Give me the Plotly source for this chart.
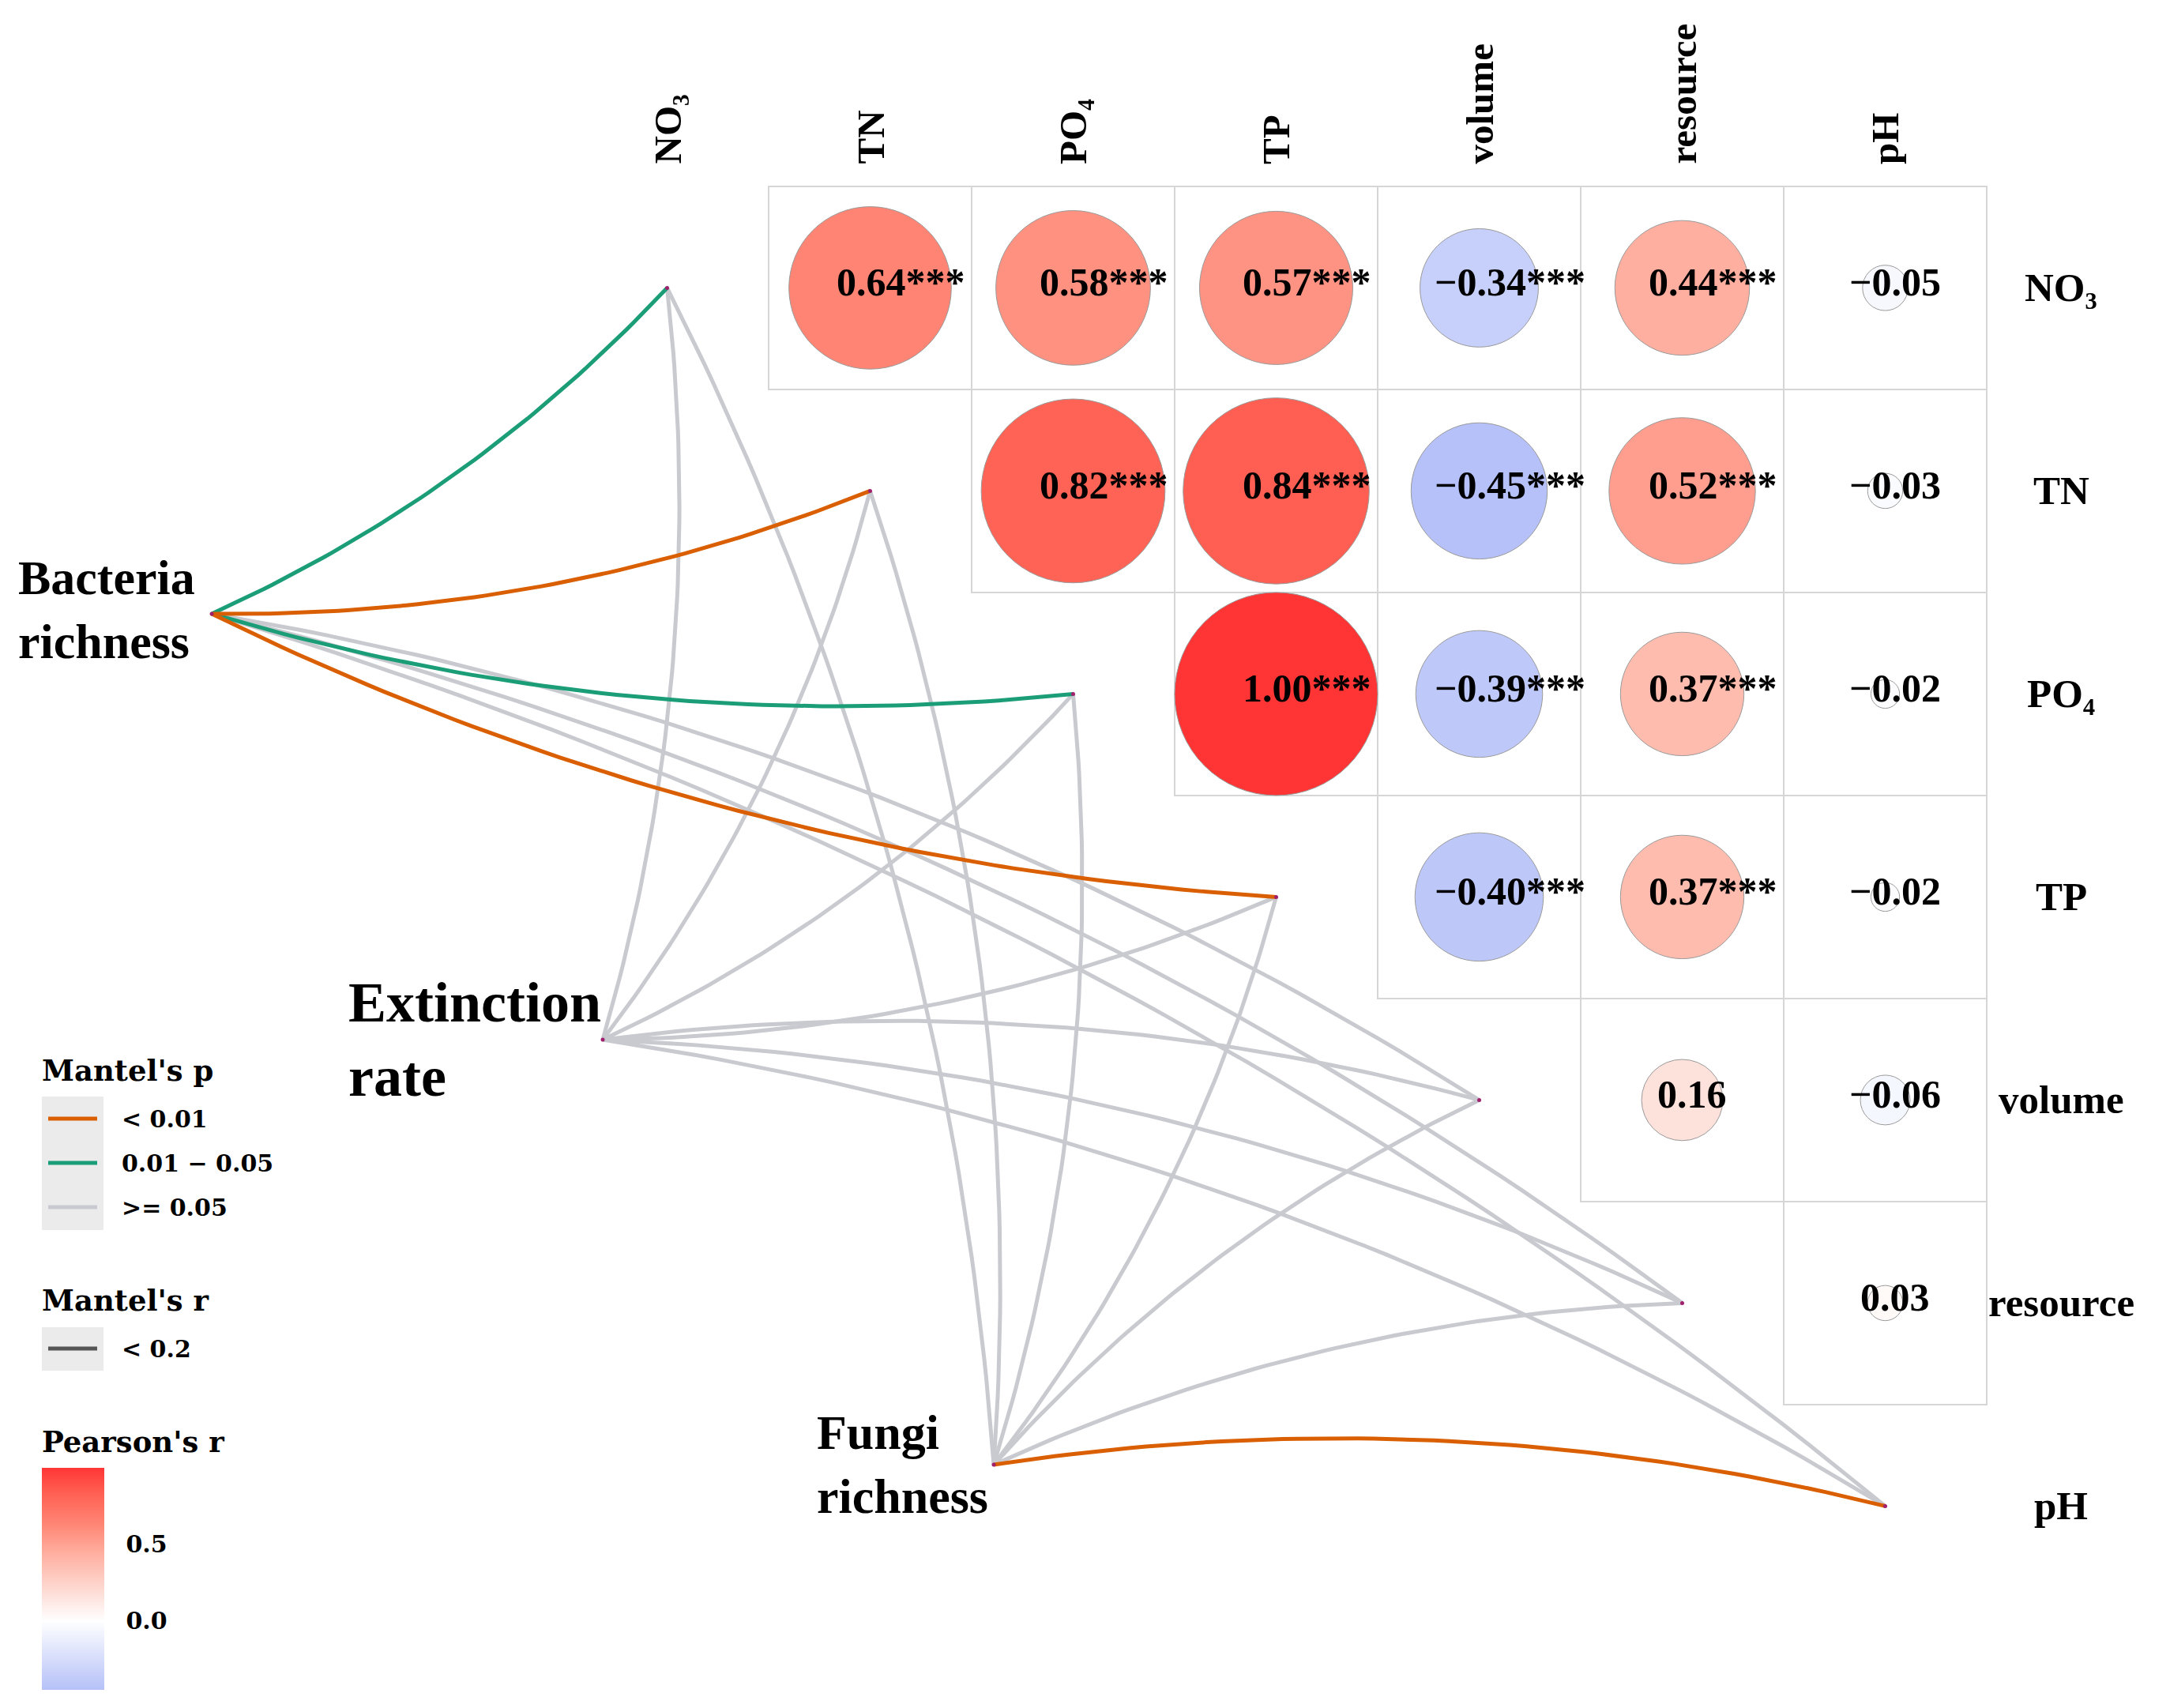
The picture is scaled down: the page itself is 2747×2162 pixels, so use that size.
import numpy as np
import plotly.graph_objects as go

# ---------------- data ----------------
env_vars = ["NO₃", "TN", "PO₄", "TP", "volume", "resource", "pH"]

# Pearson's r (upper triangle, row variable x column variable)
pearson_r = [
    [None, 0.64, 0.58, 0.57, -0.34, 0.44, -0.05],
    [None, None, 0.82, 0.84, -0.45, 0.52, -0.03],
    [None, None, None, 1.00, -0.39, 0.37, -0.02],
    [None, None, None, None, -0.40, 0.37, -0.02],
    [None, None, None, None, None, 0.16, -0.06],
    [None, None, None, None, None, None, 0.03],
    [None, None, None, None, None, None, None],
]
pearson_sig = [
    ["", "***", "***", "***", "***", "***", ""],
    ["", "", "***", "***", "***", "***", ""],
    ["", "", "", "***", "***", "***", ""],
    ["", "", "", "", "***", "***", ""],
    ["", "", "", "", "", "", ""],
    ["", "", "", "", "", "", ""],
    ["", "", "", "", "", "", ""],
]

species = ["Bacteria<br>richness", "Extinction<br>rate", "Fungi<br>richness"]

# Mantel's p class for each species -> env variable
mantel_p = [
    ["0.01 - 0.05", "< 0.01", "0.01 - 0.05", "< 0.01", ">= 0.05", ">= 0.05", ">= 0.05"],
    [">= 0.05", ">= 0.05", ">= 0.05", ">= 0.05", ">= 0.05", ">= 0.05", ">= 0.05"],
    [">= 0.05", ">= 0.05", ">= 0.05", ">= 0.05", ">= 0.05", ">= 0.05", "< 0.01"],
]
mantel_r = [["< 0.2"] * 7 for _ in range(3)]

p_classes = ["< 0.01", "0.01 - 0.05", ">= 0.05"]
p_labels = ["< 0.01", "0.01 − 0.05", ">= 0.05"]
r_classes = ["< 0.2"]
cbar_ticks = [0.0, 0.5]
cbar_ticktext = ["0.0", "0.5"]

# ---------------- layout / style ----------------
OFF = 8                              # page body margin
W, H = 2747 - OFF, 2162 - OFF        # figure size
CELL = 257.0
X0PX, Y0PX = 844.5 - OFF, 364.4 - OFF   # figure-pixel position of grid cell (0,0) centre
xr = [(0 - X0PX) / CELL, (W - X0PX) / CELL]
yr = [(H - Y0PX) / CELL, (0 - Y0PX) / CELL]

species_pos = [(-2.243, 1.605), (-0.317, 3.703), (1.609, 5.796)]
species_font = [62, 72, 62]
species_label_dx = [-0.075, 0.0, -0.02]
species_label_dy = [-0.02, 0.0, 0.0]

p_colors = {"< 0.01": "#D95F02", "0.01 - 0.05": "#1B9E77", ">= 0.05": "#C8CACF"}
r_widths = {"< 0.2": 5}

SERIF = "Liberation Serif"
LEGF = "DejaVu Serif"

cmin, cmax = -0.45, 1.0
cs_vals = [-0.45, 0.0, 0.16, 0.44, 0.64, 0.84, 1.0]
cs_cols = ["#B5C1F8", "#FFFFFF", "#FDE2DC", "#FFAFA0", "#FF8473", "#FF5F52", "#FF3535"]
colorscale = [[(v - cmin) / (cmax - cmin), c] for v, c in zip(cs_vals, cs_cols)]


def hex2rgb(h):
    h = h.lstrip("#")
    return np.array([int(h[i:i + 2], 16) for i in (0, 2, 4)], dtype=float)


def color_of(v):
    v = min(max(v, cmin), cmax)
    for k in range(len(cs_vals) - 1):
        if cs_vals[k] <= v <= cs_vals[k + 1]:
            t = (v - cs_vals[k]) / (cs_vals[k + 1] - cs_vals[k])
            c = hex2rgb(cs_cols[k]) * (1 - t) + hex2rgb(cs_cols[k + 1]) * t
            return "rgb(%d,%d,%d)" % tuple(np.round(c))
    return cs_cols[-1]


def px2paper(px, py):
    # px, py are page pixel positions
    return (px - OFF) / W, 1 - (py - OFF) / H


fig = go.Figure()
shapes = []
annotations = []

n = len(env_vars)

# grid cells + circles
for i in range(n):
    for j in range(n):
        r = pearson_r[i][j]
        if r is None:
            continue
        shapes.append(dict(type="rect", xref="x", yref="y",
                           x0=j - 0.5, x1=j + 0.5, y0=i - 0.5, y1=i + 0.5,
                           line=dict(color="#D6D6D6", width=2), fillcolor="rgba(0,0,0,0)",
                           layer="below"))
for i in range(n):
    for j in range(n):
        r = pearson_r[i][j]
        if r is None:
            continue
        rad = 0.5 * np.sqrt(abs(r))
        shapes.append(dict(type="circle", xref="x", yref="y",
                           x0=j - rad, x1=j + rad, y0=i - rad, y1=i + rad,
                           fillcolor=color_of(r), line=dict(color="#9A9A9A", width=1),
                           layer="below"))
        txt = ("−" if r < 0 else "") + "%.2f" % abs(r) + pearson_sig[i][j]
        shift = 0.15 if pearson_sig[i][j] else 0.05
        annotations.append(dict(x=j + shift, y=i - 0.03, xref="x", yref="y",
                                text="<b>%s</b>" % txt,
                                showarrow=False, xanchor="center", yanchor="middle",
                                font=dict(family=SERIF, size=50, color="black")))

# dummy trace carrying the colour bar
cx, cy, cv = [], [], []
for i in range(n):
    for j in range(n):
        if pearson_r[i][j] is not None:
            cx.append(j); cy.append(i); cv.append(pearson_r[i][j])
lx, ly = px2paper(53, 1858)
fig.add_trace(go.Scatter(
    x=cx, y=cy, mode="markers", hoverinfo="skip", showlegend=False,
    marker=dict(size=1, opacity=0, color=cv, cmin=cmin, cmax=cmax, colorscale=colorscale,
                showscale=True,
                colorbar=dict(x=lx, xanchor="left", y=ly, yanchor="top", xpad=0, ypad=0,
                              thickness=79, thicknessmode="pixels", len=281, lenmode="pixels",
                              outlinewidth=0, tickvals=cbar_ticks,
                              ticktext=["<b>%s</b>" % t for t in cbar_ticktext],
                              ticks="outside", ticklen=22, tickcolor="rgba(0,0,0,0)",
                              tickfont=dict(family=LEGF, size=30, color="black")))))

# Mantel edges (grey first, coloured on top)
order = [">= 0.05", "0.01 - 0.05", "< 0.01"]
for cls in order:
    for s, (sx, sy) in enumerate(species_pos):
        for k in range(n):
            if mantel_p[s][k] != cls:
                continue
            ex, ey = k, k
            dx, dy = ex - sx, ey - sy
            L = np.hypot(dx, dy)
            sign = 1 if k <= 3 else -1
            px_, py_ = -dy / L * sign, dx / L * sign
            mx, my = (sx + ex) / 2, (sy + ey) / 2
            cxp, cyp = mx + px_ * 0.1 * L, my + py_ * 0.1 * L
            t = np.linspace(0, 1, 60)
            bx = (1 - t) ** 2 * sx + 2 * (1 - t) * t * cxp + t ** 2 * ex
            by = (1 - t) ** 2 * sy + 2 * (1 - t) * t * cyp + t ** 2 * ey
            fig.add_trace(go.Scatter(x=bx, y=by, mode="lines", hoverinfo="skip",
                                     showlegend=False,
                                     line=dict(color=p_colors[cls],
                                               width=r_widths[mantel_r[s][k]])))

# nodes
fig.add_trace(go.Scatter(x=[p[0] for p in species_pos] + list(range(n)),
                         y=[p[1] for p in species_pos] + list(range(n)),
                         mode="markers", hoverinfo="skip", showlegend=False,
                         marker=dict(size=5, color="#A0206E")))

# species labels
for s, (sx, sy) in enumerate(species_pos):
    annotations.append(dict(x=sx + species_label_dx[s], y=sy + species_label_dy[s],
                            xref="x", yref="y", text="<b>%s</b>" % species[s],
                            showarrow=False, xanchor="right", yanchor="middle", align="left",
                            font=dict(family=SERIF, size=species_font[s], color="black")))

# axis labels: top and right
top_y = (210 - OFF - Y0PX) / CELL
right_x = (2609 - OFF - X0PX) / CELL
for j, name in enumerate(env_vars):
    annotations.append(dict(x=j, y=top_y, xref="x", yref="y", text="<b>%s</b>" % name,
                            showarrow=False, textangle=-90, xanchor="center", yanchor="bottom",
                            font=dict(family=SERIF, size=49, color="black")))
    annotations.append(dict(x=right_x, y=j, xref="x", yref="y", text="<b>%s</b>" % name,
                            showarrow=False, xanchor="center", yanchor="middle",
                            font=dict(family=SERIF, size=51, color="black")))

# ---------------- legends ----------------
def ptext(px, py, text, size):
    x, y = px2paper(px, py)
    annotations.append(dict(x=x, y=y, xref="paper", yref="paper", text="<b>%s</b>" % text,
                            showarrow=False, xanchor="left", yanchor="middle",
                            font=dict(family=LEGF, size=size, color="black")))


def prect(x0, y0, x1, y1, color):
    a, b = px2paper(x0, y0)
    c, d = px2paper(x1, y1)
    shapes.append(dict(type="rect", xref="paper", yref="paper", x0=a, x1=c, y0=d, y1=b,
                       fillcolor=color, line=dict(width=0), layer="below"))


def pline(x0, x1, y, color, width):
    a, b = px2paper(x0, y)
    c, _ = px2paper(x1, y)
    shapes.append(dict(type="line", xref="paper", yref="paper", x0=a, x1=c, y0=b, y1=b,
                       line=dict(color=color, width=width)))


ptext(51, 1355, "Mantel's p", 37)
prect(53, 1388, 131, 1557, "#EBEBEB")
for k, cls in enumerate(p_classes):
    yy = 1416 + 56 * k
    pline(61, 123, yy, p_colors[cls], 5)
    ptext(152, yy, p_labels[k], 30)

ptext(51, 1646, "Mantel's r", 37)
prect(53, 1680, 131, 1735, "#EBEBEB")
pline(61, 123, 1707, "#555555", 5)
ptext(152, 1707, r_classes[0], 30)

ptext(51, 1825, "Pearson's r", 37)

fig.update_layout(
    width=W, height=H, autosize=False,
    margin=dict(l=0, r=0, t=0, b=0),
    paper_bgcolor="white", plot_bgcolor="white",
    xaxis=dict(range=xr, visible=False, fixedrange=True),
    yaxis=dict(range=yr, visible=False, fixedrange=True),
    shapes=shapes, annotations=annotations, showlegend=False,
)

fig.write_html("out.html")
